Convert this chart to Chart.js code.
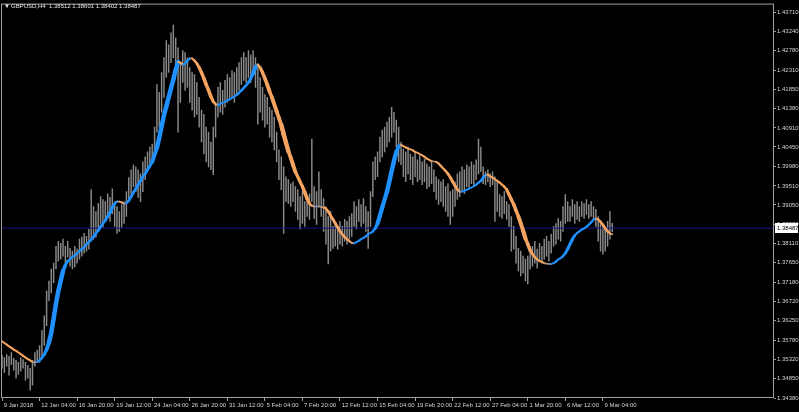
<!DOCTYPE html>
<html>
<head>
<meta charset="utf-8">
<title>GBPUSD,H4</title>
<script src="https://cdn.jsdelivr.net/npm/chart.js@4.4.1/dist/chart.umd.min.js"></script>
<style>
  html, body { margin: 0; padding: 0; background: #000; }
  #wrap { width: 799px; height: 412px; }
</style>
</head>
<body>
<div id="wrap"><canvas id="chart" width="799" height="412"></canvas></div>
<script>
// GBPUSD H4, 9 Jan 2018 12:00 -> 9 Mar 2018 20:00 (one value per 4h bar)
const symbolTitle = "GBPUSD,H4";
const lastBar = [1.38512, 1.38601, 1.38402, 1.38487]; // open high low close

const highs = [
  1.3541, 1.3536, 1.3543, 1.3539, 1.3548, 1.3534, 1.3529, 1.3524, 1.3536, 1.3531,
  1.3524, 1.3517, 1.3510, 1.3529, 1.3548, 1.3553, 1.3565, 1.3601, 1.3637, 1.3697,
  1.3721, 1.3750, 1.3764, 1.3805, 1.3817, 1.3812, 1.3822, 1.3805, 1.3817, 1.3800,
  1.3793, 1.3805, 1.3798, 1.3822, 1.3827, 1.3836, 1.3829, 1.3846, 1.3942, 1.3901,
  1.3889, 1.3908, 1.3925, 1.3918, 1.3913, 1.3932, 1.3923, 1.3944, 1.3913, 1.3901,
  1.3889, 1.3906, 1.3913, 1.3937, 1.3971, 1.3990, 1.4002, 1.3997, 1.3990, 1.3980,
  1.4009, 1.4021, 1.4033, 1.4045, 1.4052, 1.4093, 1.4196, 1.4177, 1.4225, 1.4261,
  1.4302, 1.4292, 1.4321, 1.4340, 1.4309, 1.4285, 1.4249, 1.4278, 1.4273, 1.4261,
  1.4237, 1.4225, 1.4220, 1.4201, 1.4165, 1.4134, 1.4124, 1.4093, 1.4081, 1.4057,
  1.4093, 1.4153, 1.4189, 1.4201, 1.4182, 1.4206, 1.4220, 1.4213, 1.4230, 1.4225,
  1.4237, 1.4249, 1.4261, 1.4273, 1.4261, 1.4278, 1.4268, 1.4278, 1.4261, 1.4244,
  1.4213, 1.4189, 1.4172, 1.4165, 1.4141, 1.4134, 1.4117, 1.4081, 1.4038, 1.4021,
  1.3997, 1.3973, 1.3966, 1.3956, 1.3961, 1.3949, 1.3942, 1.3925, 1.3937, 1.3913,
  1.3918, 1.3932, 1.4064, 1.3949, 1.3937, 1.3985, 1.3942, 1.3920, 1.3901, 1.3877,
  1.3889, 1.3853, 1.3860, 1.3846, 1.3865, 1.3853, 1.3870, 1.3865, 1.3877, 1.3884,
  1.3913, 1.3901, 1.3918, 1.3906, 1.3920, 1.3901, 1.3889, 1.3937, 1.4009, 1.4021,
  1.4033, 1.4069, 1.4086, 1.4093, 1.4105, 1.4117, 1.4141, 1.4129, 1.4110, 1.4093,
  1.4057, 1.4040, 1.4033, 1.4045, 1.4028, 1.4021, 1.4033, 1.4014, 1.4026, 1.4009,
  1.4016, 1.4004, 1.3997, 1.4009, 1.3990, 1.3973, 1.3966, 1.3961, 1.3966, 1.3949,
  1.3956, 1.3937, 1.3942, 1.3961, 1.3980, 1.3985, 1.3997, 1.3990, 1.4002, 1.3997,
  1.4009, 1.4002, 1.4014, 1.4064, 1.4045, 1.3997, 1.3985, 1.3990, 1.3980, 1.3985,
  1.3973, 1.3961, 1.3930, 1.3925, 1.3937, 1.3913, 1.3906, 1.3877, 1.3853, 1.3829,
  1.3800, 1.3793, 1.3781, 1.3774, 1.3781, 1.3793, 1.3805, 1.3817, 1.3798, 1.3812,
  1.3805, 1.3822, 1.3829, 1.3817, 1.3834, 1.3853, 1.3860, 1.3872, 1.3865, 1.3901,
  1.3930, 1.3913, 1.3901, 1.3918, 1.3906, 1.3913, 1.3901, 1.3913, 1.3908, 1.3918,
  1.3906, 1.3913, 1.3901, 1.3894, 1.3877, 1.3865, 1.3853, 1.3846, 1.3865, 1.3889,
  1.38601
];

const lows = [
  1.3510, 1.3500, 1.3515, 1.3493, 1.3519, 1.3505, 1.3486, 1.3495, 1.3503, 1.3510,
  1.3481, 1.3486, 1.3457, 1.3469, 1.3515, 1.3524, 1.3524, 1.3539, 1.3565, 1.3613,
  1.3673, 1.3692, 1.3716, 1.3750, 1.3769, 1.3774, 1.3781, 1.3764, 1.3779, 1.3757,
  1.3750, 1.3755, 1.3764, 1.3774, 1.3781, 1.3788, 1.3793, 1.3798, 1.3817, 1.3822,
  1.3827, 1.3841, 1.3860, 1.3851, 1.3870, 1.3877, 1.3865, 1.3884, 1.3853, 1.3836,
  1.3841, 1.3851, 1.3860, 1.3877, 1.3913, 1.3932, 1.3949, 1.3937, 1.3923, 1.3913,
  1.3937, 1.3966, 1.3990, 1.3997, 1.4009, 1.4033, 1.4081, 1.4093, 1.4129, 1.4165,
  1.4213, 1.4225, 1.4249, 1.4261, 1.4225, 1.4081, 1.4153, 1.4201, 1.4182, 1.4189,
  1.4153, 1.4134, 1.4117, 1.4124, 1.4093, 1.4057, 1.4028, 1.4009, 1.3997, 1.3990,
  1.3978, 1.4069, 1.4117, 1.4129, 1.4124, 1.4141, 1.4153, 1.4158, 1.4165, 1.4153,
  1.4172, 1.4182, 1.4196, 1.4206, 1.4201, 1.4213, 1.4201, 1.4225, 1.4189, 1.4100,
  1.4129, 1.4110, 1.4093, 1.4100, 1.4069, 1.4057, 1.4038, 1.4009, 1.3966, 1.3942,
  1.3836, 1.3913, 1.3908, 1.3901, 1.3913, 1.3889, 1.3870, 1.3846, 1.3860, 1.3853,
  1.3877, 1.3870, 1.3913, 1.3872, 1.3858, 1.3901, 1.3877, 1.3841, 1.3810, 1.3762,
  1.3793, 1.3800, 1.3805, 1.3798, 1.3810, 1.3805, 1.3817, 1.3810, 1.3822, 1.3829,
  1.3853, 1.3846, 1.3865, 1.3853, 1.3860, 1.3841, 1.3800, 1.3853, 1.3925, 1.3966,
  1.3973, 1.4009, 1.4021, 1.4033, 1.4045, 1.4057, 1.4069, 1.4081, 1.4045, 1.4009,
  1.4002, 1.3973, 1.3961, 1.3980, 1.3966, 1.3954, 1.3973, 1.3961, 1.3966, 1.3954,
  1.3961, 1.3944, 1.3949, 1.3956, 1.3937, 1.3918, 1.3906, 1.3913, 1.3901, 1.3889,
  1.3877, 1.3858, 1.3877, 1.3901, 1.3918, 1.3925, 1.3937, 1.3932, 1.3949, 1.3944,
  1.3956, 1.3949, 1.3966, 1.3980, 1.3985, 1.3956, 1.3954, 1.3961, 1.3949, 1.3954,
  1.3865, 1.3889, 1.3877, 1.3872, 1.3884, 1.3870, 1.3853, 1.3793, 1.3798, 1.3764,
  1.3745, 1.3733, 1.3740, 1.3721, 1.3714, 1.3750, 1.3757, 1.3764, 1.3752, 1.3769,
  1.3764, 1.3774, 1.3781, 1.3769, 1.3788, 1.3805, 1.3810, 1.3822, 1.3817, 1.3841,
  1.3860, 1.3865, 1.3865, 1.3877, 1.3860, 1.3870, 1.3865, 1.3877, 1.3872, 1.3882,
  1.3872, 1.3877, 1.3870, 1.3853, 1.3817, 1.3793, 1.3786, 1.3793, 1.3805, 1.3822,
  1.38402
];

// smoothed moving average drawn as the blue / orange ribbon
const maLine = [
  1.3575, 1.3571, 1.3567, 1.3563, 1.3559, 1.3555, 1.3552, 1.3548, 1.3544, 1.3540,
  1.3536, 1.3532, 1.3529, 1.3525, 1.3524, 1.3525, 1.3529, 1.3535, 1.3543, 1.3555,
  1.3572, 1.3596, 1.3630, 1.3666, 1.3697, 1.3721, 1.3745, 1.3759, 1.3769, 1.3774,
  1.3779, 1.3783, 1.3788, 1.3793, 1.3798, 1.3803, 1.3810, 1.3815, 1.3821, 1.3828,
  1.3836, 1.3843, 1.3853, 1.3860, 1.3867, 1.3877, 1.3886, 1.3899, 1.3908, 1.3913,
  1.3913, 1.3911, 1.3908, 1.3909, 1.3915, 1.3925, 1.3935, 1.3944, 1.3954, 1.3963,
  1.3973, 1.3980, 1.3990, 1.3999, 1.4009, 1.4026, 1.4043, 1.4067, 1.4095, 1.4122,
  1.4143, 1.4165, 1.4187, 1.4208, 1.4232, 1.4251, 1.4249, 1.4244, 1.4247, 1.4254,
  1.4259, 1.4259, 1.4254, 1.4247, 1.4237, 1.4225, 1.4211, 1.4196, 1.4182, 1.4167,
  1.4155, 1.4148, 1.4146, 1.4149, 1.4152, 1.4154, 1.4158, 1.4160, 1.4164, 1.4167,
  1.4171, 1.4176, 1.4182, 1.4188, 1.4194, 1.4201, 1.4211, 1.4223, 1.4239, 1.4244,
  1.4237, 1.4225, 1.4211, 1.4196, 1.4179, 1.4165, 1.4148, 1.4131, 1.4115, 1.4098,
  1.4076, 1.4055, 1.4035, 1.4019, 1.4002, 1.3985, 1.3973, 1.3961, 1.3949, 1.3935,
  1.3920, 1.3908, 1.3903, 1.3901, 1.3901, 1.3901, 1.3900, 1.3899, 1.3896, 1.3889,
  1.3879, 1.3870, 1.3860, 1.3851, 1.3841, 1.3834, 1.3827, 1.3822, 1.3817, 1.3813,
  1.3812, 1.3815, 1.3818, 1.3822, 1.3825, 1.3829, 1.3834, 1.3837, 1.3841, 1.3848,
  1.3860, 1.3879, 1.3899, 1.3918, 1.3937, 1.3961, 1.3987, 1.4011, 1.4033, 1.4047,
  1.4050, 1.4047, 1.4044, 1.4041, 1.4039, 1.4037, 1.4033, 1.4031, 1.4028, 1.4025,
  1.4021, 1.4017, 1.4014, 1.4011, 1.4010, 1.4009, 1.4005, 1.3999, 1.3993, 1.3987,
  1.3980, 1.3971, 1.3961, 1.3951, 1.3942, 1.3937, 1.3937, 1.3939, 1.3942, 1.3944,
  1.3947, 1.3950, 1.3954, 1.3959, 1.3963, 1.3971, 1.3977, 1.3978, 1.3974, 1.3971,
  1.3967, 1.3963, 1.3959, 1.3954, 1.3949, 1.3942, 1.3930, 1.3918, 1.3906, 1.3891,
  1.3877, 1.3860, 1.3843, 1.3824, 1.3810, 1.3795, 1.3786, 1.3779, 1.3773, 1.3769,
  1.3767, 1.3764, 1.3763, 1.3762, 1.3762, 1.3764, 1.3768, 1.3773, 1.3776, 1.3781,
  1.3788, 1.3798, 1.3810, 1.3822, 1.3831, 1.3837, 1.3841, 1.3845, 1.3848, 1.3852,
  1.3857, 1.3863, 1.3869, 1.3872, 1.3870, 1.3864, 1.3857, 1.3848, 1.3841, 1.3836,
  1.3834
];

const priceTicks = [
  1.34380, 1.34850, 1.35320, 1.35780, 1.36250, 1.36720, 1.37180,
  1.37650, 1.38110, 1.38580, 1.39050, 1.39510, 1.39980, 1.40450,
  1.40910, 1.41380, 1.41850, 1.42310, 1.42780, 1.43240, 1.43710
];

const timeLabels = [
  "9 Jan 2018", "12 Jan 04:00", "16 Jan 20:00", "19 Jan 12:00", "24 Jan 04:00",
  "26 Jan 20:00", "31 Jan 12:00", "5 Feb 04:00", "7 Feb 20:00", "12 Feb 12:00",
  "15 Feb 04:00", "19 Feb 20:00", "22 Feb 12:00", "27 Feb 04:00", "1 Mar 20:00",
  "6 Mar 12:00", "9 Mar 04:00"
];
const barsPerLabel = 16;

// visible window in bars (chart is shifted, empty space on the right)
const xMax = 328.9;
const yMin = 1.34380, yMax = 1.43893;

const axisFont = { family: "Liberation Sans", size: 6 };
const textColor = "#d4d4d4";
const frameColor = "#a0a0a0";

const barData = highs.map((h, i) => ({ x: i, y: [lows[i], h] }));
const maData = maLine.map((v, i) => ({ x: i, y: v }));
const bidData = [{ x: 0, y: lastBar[3] }, { x: xMax, y: lastBar[3] }];

// ribbon colour: blue when rising, orange when falling, thin and dull when flat
function ribbonColor(ctx) {
  const d = ctx.p1.parsed.y - ctx.p0.parsed.y;
  if (Math.abs(d) < 0.00012) return d >= 0 ? "#7f9cc0" : "#c09a78";
  return d >= 0 ? "#1e90ff" : "#f4a460";
}
function ribbonWidth(ctx) {
  const d = Math.abs(ctx.p1.parsed.y - ctx.p0.parsed.y);
  return Math.min(4.5, 1.5 + d / 0.0007);
}

const mtFrame = {
  id: "mtFrame",
  beforeDraw(chart) {
    const c = chart.ctx;
    c.save();
    c.fillStyle = "#000";
    c.fillRect(0, 0, chart.width, chart.height);
    c.restore();
  },
  afterDraw(chart) {
    const c = chart.ctx;
    const a = chart.chartArea;
    c.save();
    c.strokeStyle = frameColor;
    c.lineWidth = 1;
    c.strokeRect(a.left - 0.5, a.top - 0.5, a.right - a.left, a.bottom - a.top);

    // header
    c.font = '6px "Liberation Sans"';
    c.textBaseline = "middle";
    c.fillStyle = "#e8e8e8";
    c.fillText("\u25BC", 4, 6);
    c.fillText(symbolTitle + "  " + lastBar.map(v => v.toFixed(5)).join(" "), 11, 6);

    // last price box on the scale
    const y = Math.round(chart.scales.y.getPixelForValue(lastBar[3]));
    c.fillStyle = "#ffffff";
    c.fillRect(a.right + 1, y - 5, 23, 10);
    c.fillStyle = "#000";
    c.fillText(lastBar[3].toFixed(5), a.right + 3, y);
    c.restore();
  }
};

new Chart(document.getElementById("chart"), {
  type: "bar",
  data: {
    datasets: [
      {
        type: "line",
        label: "MA",
        data: maData,
        borderColor: "#1e90ff",
        borderWidth: 3,
        borderCapStyle: "round",
        borderJoinStyle: "round",
        pointRadius: 0,
        tension: 0,
        order: 0,
        segment: { borderColor: ribbonColor, borderWidth: ribbonWidth }
      },
      {
        type: "line",
        label: "Bid",
        data: bidData,
        borderColor: "#16168c",
        borderWidth: 1,
        pointRadius: 0,
        order: 1
      },
      {
        type: "bar",
        label: "GBPUSD",
        data: barData,
        backgroundColor: "#8a8a8a",
        barThickness: 0.8,
        grouped: false,
        order: 2
      }
    ]
  },
  options: {
    responsive: false,
    animation: false,
    events: [],
    layout: { padding: { left: 2, top: 2, right: 0, bottom: 0 } },
    plugins: {
      legend: { display: false },
      tooltip: { enabled: false }
    },
    scales: {
      x: {
        type: "linear",
        offset: false,
        min: 0,
        max: xMax,
        afterBuildTicks: s => { s.ticks = timeLabels.map((t, k) => ({ value: k * barsPerLabel })); },
        afterFit: s => { s.height = 14; },
        ticks: {
          autoSkip: false,
          maxRotation: 0,
          align: "start",
          padding: 1,
          color: textColor,
          font: axisFont,
          callback: (v, k) => " " + timeLabels[k]
        },
        grid: { offset: false, drawOnChartArea: false, tickLength: 3, color: frameColor },
        border: { display: false }
      },
      y: {
        position: "right",
        min: yMin,
        max: yMax,
        afterBuildTicks: s => { s.ticks = priceTicks.map(v => ({ value: v })); },
        afterFit: s => { s.width = 25; },
        ticks: {
          autoSkip: false,
          padding: 1,
          color: textColor,
          font: axisFont,
          callback: v => v.toFixed(5)
        },
        grid: { drawOnChartArea: false, tickLength: 2, color: frameColor },
        border: { display: false }
      }
    }
  },
  plugins: [mtFrame]
});
</script>
</body>
</html>
